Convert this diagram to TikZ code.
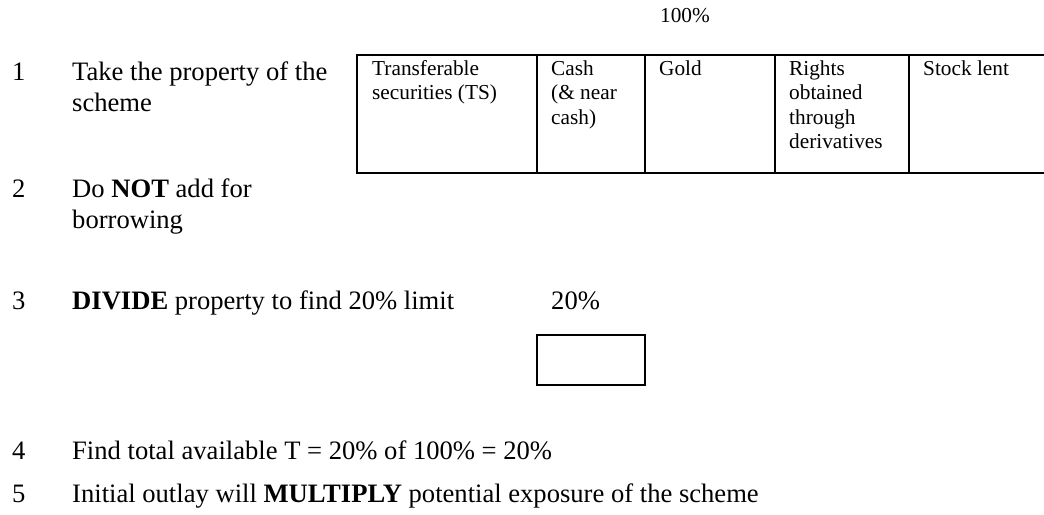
\documentclass[tikz,border=0pt]{standalone}
\usepackage{fontspec}
\setmainfont{Liberation Serif}
\usepackage{tikz}

% stacked lines whose baseline is the first one
\newcommand{\lns}[1]{\begin{tabular}[t]{@{}l@{}}#1\end{tabular}}

\begin{document}
\begin{tikzpicture}[x=1pt, y=-1pt,
        every node/.style={inner sep=0pt, anchor=base west},
        steptext/.style={font=\fontsize{26.6}{31}\selectfont},
        celltext/.style={font=\fontsize{21.3}{24.5}\selectfont},
        rule/.style={line width=2.6pt}]
        \useasboundingbox (0,0) rectangle (1044,514);
        \clip (0,0) rectangle (1044,514);
        % the property table
        \draw[rule] (1060,55) -- (357,55) -- (357,173) -- (1060,173);
        \foreach \x in {537,645,775,909} \draw[rule] (\x,55) -- (\x,173);
        \node[celltext, anchor=base] (full) at (685,23) {100\%};
        \node[celltext] (ts) at (372,75) {\lns{Transferable\\securities (TS)}};
        \node[celltext] (cash) at (551,75) {\lns{Cash\\(\& near\\cash)}};
        \node[celltext] (gold) at (659,75) {Gold};
        \node[celltext] (rights) at (789,75) {\lns{Rights\\obtained\\through\\derivatives}};
        \node[celltext] (lent) at (923,75) {Stock lent};
        % the steps
        \node[steptext] (n1) at (12,80) {1};
        \node[steptext] (s1) at (72,80) {\lns{Take the property of the\\scheme}};
        \node[steptext] (n2) at (12,197) {2};
        \node[steptext] (s2) at (72,197) {\lns{Do \textbf{NOT} add for\\borrowing}};
        \node[steptext] (n3) at (12,309) {3};
        \node[steptext] (s3) at (72,309) {\textbf{DIVIDE} property to find 20\% limit};
        \node[steptext] (limit) at (551,309) {20\%};
        \draw[rule] (537,335) rectangle (645,385);
        \node[steptext] (n4) at (12,459) {4};
        \node[steptext] (s4) at (72,459) {Find total available T = 20\% of 100\% = 20\%};
        \node[steptext] (n5) at (12,502) {5};
        \node[steptext] (s5) at (72,502) {Initial outlay will \textbf{MULTIPLY} potential exposure of the scheme};
\end{tikzpicture}
\end{document}
